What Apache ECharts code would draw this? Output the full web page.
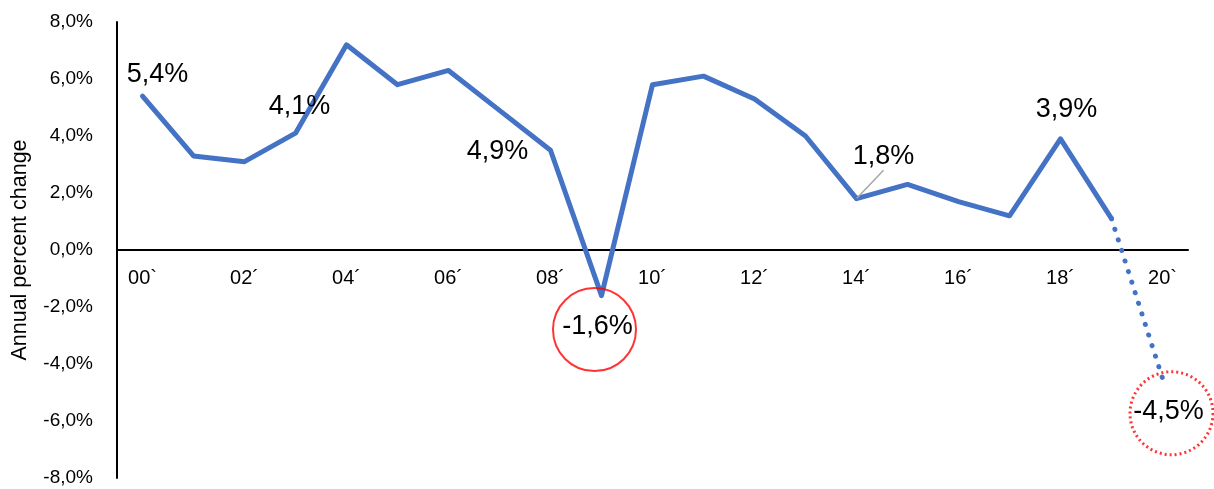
<!DOCTYPE html>
<html>
<head>
<meta charset="utf-8">
<script src="https://cdn.jsdelivr.net/npm/echarts@6/dist/echarts.min.js"></script>
<style>
  html, body { margin: 0; padding: 0; background: #fff; }
  #chart { width: 1214px; height: 489px; }
</style>
</head>
<body>
<div id="chart"></div>
<script>
// Years 2000–2020, annual percent change
const years = ['00`', '01´', '02´', '03´', '04´', '05´', '06´', '07´', '08´', '09´', '10´',
               '11´', '12´', '13´', '14´', '15´', '16´', '17´', '18´', '19´', '20`'];
const growth = [5.4, 3.3, 3.1, 4.1, 7.2, 5.8, 6.3, 4.9, 3.5, -1.6, 5.8,
                6.1, 5.3, 4.0, 1.8, 2.3, 1.7, 1.2, 3.9, 1.1, -4.5];
// Years whose values are written on the chart
const labelledYears = ['00`', '03´', '07´', '09´', '14´', '18´', '20`'];
// Years ringed in red: solid ring for the recession, dotted ring for the forecast
const ringedYears = ['09´'];
const forecastYears = ['19´', '20`'];
const yTicks = [-8, -6, -4, -2, 0, 2, 4, 6, 8];

const fmt = v => v.toFixed(1).replace('.', ',') + '%';

// Label placement around each written value (pixels from the point)
const labelOffsets = {
  '00`': [15, -22], '03´': [4, -27], '07´': [-2, 41], '09´': [-4, 31],
  '14´': [27, -42], '18´': [6, -29], '20`': [6, 33]
};

const lastActual = years.indexOf(forecastYears[0]);
const solidData = growth.map((v, i) => {
  if (i > lastActual) return null;
  const y = years[i];
  if (labelledYears.includes(y)) {
    const item = { value: v, label: { show: true, offset: labelOffsets[y] } };
    if (y === '14´') {
      item.labelLine = { show: true, lineStyle: { color: '#A6A6A6', width: 1.5 } };
    }
    return item;
  }
  return v;
});
const dottedData = growth.map((v, i) => {
  if (!forecastYears.includes(years[i])) return null;
  const y = years[i];
  if (labelledYears.includes(y) && i > lastActual) {
    return { value: v, label: { show: true, offset: labelOffsets[y] } };
  }
  return v;
});

const ringSolid = ringedYears.map(y => [y, growth[years.indexOf(y)]]);
const ringDotted = [forecastYears[forecastYears.length - 1]].map(y => [y, growth[years.indexOf(y)]]);

// Plot area and the zero line position within it, so the category axis sits on 0
const gridBox = { left: 117, right: 26, top: 22, bottom: 11 };
const chartEl = document.getElementById('chart');
const plotHeight = chartEl.clientHeight - gridBox.top - gridBox.bottom;
const yMin = yTicks[0], yMax = yTicks[yTicks.length - 1];
const zeroOffset = -plotHeight * (0 - yMin) / (yMax - yMin);

const chart = echarts.init(chartEl);
chart.setOption({
  animation: false,
  backgroundColor: '#fff',
  textStyle: { fontFamily: 'Liberation Sans, Arial, sans-serif' },
  grid: Object.assign({ containLabel: false, outerBoundsMode: 'none' }, gridBox),
  xAxis: {
    type: 'category',
    data: years,
    boundaryGap: true,
    position: 'bottom',
    offset: zeroOffset,
    axisLine: { onZero: false, lineStyle: { color: '#000', width: 2 } },
    axisTick: { show: false },
    axisLabel: { interval: 1, color: '#000', fontSize: 20, margin: 18 },
    splitLine: { show: false }
  },
  yAxis: {
    type: 'value',
    min: yMin,
    max: yMax,
    interval: 2,
    name: 'Annual percent change',
    nameLocation: 'middle',
    nameGap: 86,
    nameTextStyle: { color: '#000', fontSize: 21.5 },
    axisLine: { show: true, lineStyle: { color: '#000', width: 2 } },
    axisTick: { show: false },
    axisLabel: { color: '#000', fontSize: 19, margin: 24, formatter: v => fmt(v) },
    splitLine: { show: false }
  },
  series: [
    {
      type: 'line',
      data: solidData,
      symbol: 'circle',
      symbolSize: 1,
      itemStyle: { color: '#4472C4' },
      lineStyle: { color: '#4472C4', width: 5, cap: 'round', join: 'round' },
      label: { show: false, position: 'inside', color: '#000', fontSize: 27, formatter: p => fmt(p.value) },
      z: 3
    },
    {
      type: 'line',
      data: dottedData,
      symbol: 'circle',
      symbolSize: 1,
      itemStyle: { color: '#4472C4' },
      lineStyle: { color: '#4472C4', width: 5, type: [0.1, 11], cap: 'round' },
      label: { show: false, position: 'inside', color: '#000', fontSize: 27, formatter: p => fmt(p.value) },
      z: 3
    },
    {
      type: 'scatter',
      data: ringSolid,
      symbol: 'circle',
      symbolSize: 83,
      symbolOffset: [-7, 34],
      itemStyle: { color: 'rgba(0,0,0,0)', borderColor: '#FF0000', borderWidth: 2 },
      z: 4
    },
    {
      type: 'scatter',
      data: ringDotted,
      symbol: 'circle',
      symbolSize: 83,
      symbolOffset: [9, 35],
      itemStyle: { color: 'rgba(0,0,0,0)', borderColor: '#FF0000', borderWidth: 3, borderType: [2, 3] },
      z: 4
    }
  ]
});
</script>
</body>
</html>
